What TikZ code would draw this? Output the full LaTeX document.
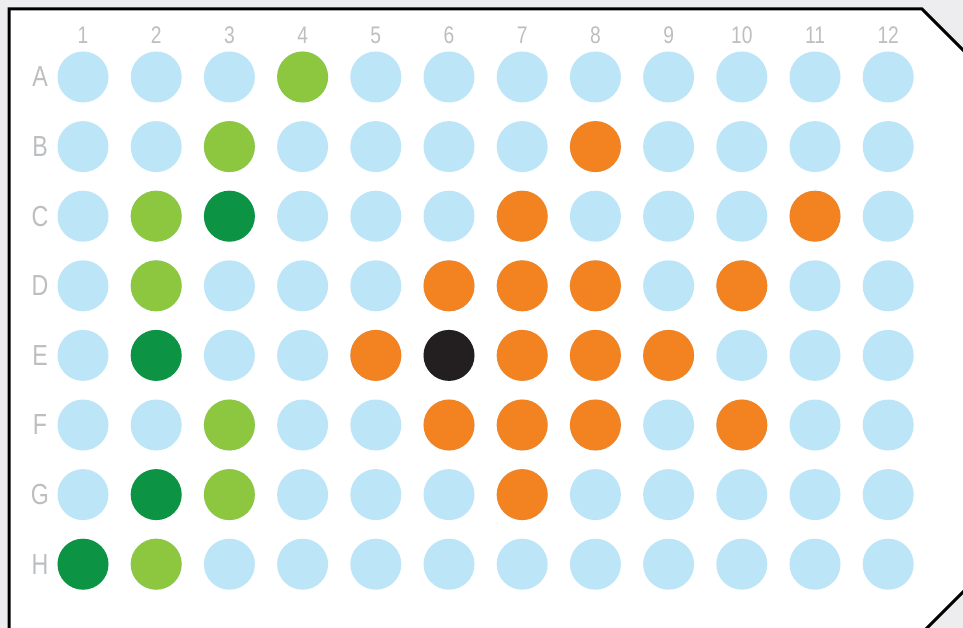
\documentclass[tikz,border=0pt]{standalone}
\usepackage{fontspec}
\setmainfont{Liberation Sans}
\newfontfamily\labfont[FakeStretch=0.8]{Liberation Sans}
\definecolor{bgray}{HTML}{EDEDEF}
\definecolor{lblue}{HTML}{BDE5F8}
\definecolor{lgreen}{HTML}{8DC63F}
\definecolor{dgreen}{HTML}{0C9444}
\definecolor{worange}{HTML}{F38321}
\definecolor{wblack}{HTML}{231F20}
\definecolor{labgray}{HTML}{BCBEC0}
\tikzset{
  well/.style={circle, minimum size=51pt, inner sep=0pt, fill=lblue},
  collab/.style={text=labgray, font=\labfont\fontsize{24}{24}\selectfont, inner sep=0pt},
  rowlab/.style={text=labgray, font=\labfont\fontsize{29}{29}\selectfont, inner sep=0pt},
}
\begin{document}
\begin{tikzpicture}[x=1pt,y=-1pt]
\useasboundingbox (0,0) rectangle (963,628);
\fill[bgray] (0,0) rectangle (963,628);
\begin{scope}
\clip (0,0) rectangle (963,628);
\draw[line width=3pt, fill=white, line join=miter] (9,700) -- (9,9) -- (922,9) -- (1000,87) -- (1000,555) -- (927,628) -- (900,655) -- cycle;
\end{scope}
% column labels
\foreach \c in {1,...,12} {
  \node[collab] (c\c) at ({83+73.2*(\c-1)},35) {\c};
}
% row labels
\foreach \r [count=\i] in {A,B,C,D,E,F,G,H} {
  \node[rowlab] (r\r) at (40,{77+69.6*(\i-1)}) {\r};
  \foreach \c in {1,...,12} {
    \node[well] (w\r\c) at ({83+73.2*(\c-1)},{77+69.6*(\i-1)}) {};
  }
}
% coloured wells
\foreach \w in {A4,B3,C2,D2,F3,G3,H2} { \node[well,fill=lgreen] at (w\w) {}; }
\foreach \w in {C3,E2,G2,H1} { \node[well,fill=dgreen] at (w\w) {}; }
\foreach \w in {B8,C7,C11,D6,D7,D8,D10,E5,E7,E8,E9,F6,F7,F8,F10,G7} { \node[well,fill=worange] at (w\w) {}; }
\node[well,fill=wblack] at (wE6) {};
\end{tikzpicture}
\end{document}
